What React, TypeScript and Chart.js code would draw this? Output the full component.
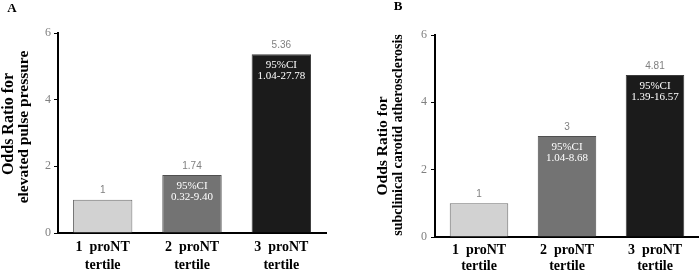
import React, { useEffect, useRef } from 'react';
import { Chart, registerables } from 'chart.js';

Chart.register(...registerables);

// Tertile categories shown under both panels
const tertileLabels: string[][] = [
  ['1  proNT', 'tertile'],
  ['2  proNT', 'tertile'],
  ['3  proNT', 'tertile'],
];

// Panel A: odds ratio for elevated pulse pressure
const pulseOdds = [1, 1.74, 5.36];
const pulseCI = ['', '0.32-9.40', '1.04-27.78'];

// Panel B: odds ratio for subclinical carotid atherosclerosis
const carotidOdds = [1, 3, 4.81];
const carotidCI = ['', '1.04-8.68', '1.39-16.57'];

const yMin = 0;
const yMax = 6;
const yStep = 2;

const barFills = ['#d2d2d2', '#737373', '#1b1b1b'];
const barBorders = ['#6e6e6e', '#4f4f4f', '#3c3c3c'];

const SERIF = '"Liberation Serif", "Times New Roman", serif';
const SANS = '"Liberation Sans", Arial, sans-serif';

type TitleLine = { text: string; x: number; y: number; size: number };

type PanelSpec = {
  letter: string;
  letterX: number;
  letterY: number;
  titles: TitleLine[];
  values: number[];
  ci: string[];
  width: number;
  height: number;
  area: { left: number; right: number; top: number; bottom: number };
  tickPad: number;
  xPad: number;
  xLineHeight: number;
};

const panelA: PanelSpec = {
  letter: 'A',
  letterX: 12,
  letterY: 9,
  titles: [
    { text: 'Odds Ratio for', x: 9, y: 124, size: 16 },
    { text: 'elevated pulse pressure', x: 24, y: 127, size: 15.5 },
  ],
  values: pulseOdds,
  ci: pulseCI,
  width: 350,
  height: 272,
  area: { left: 58, right: 326, top: 33, bottom: 233 },
  tickPad: 3,
  xPad: 6,
  xLineHeight: 1.25,
};

const panelB: PanelSpec = {
  letter: 'B',
  letterX: 48,
  letterY: 7,
  titles: [
    { text: 'Odds Ratio for', x: 33, y: 146, size: 15.5 },
    { text: 'subclinical carotid atherosclerosis', x: 48, y: 135, size: 14 },
  ],
  values: carotidOdds,
  ci: carotidCI,
  width: 349,
  height: 272,
  area: { left: 85, right: 349, top: 35, bottom: 237 },
  tickPad: 4,
  xPad: 6,
  xLineHeight: 1.12,
};

function makeAnnotations(spec: PanelSpec) {
  return {
    id: 'panelAnnotations',
    afterDatasetsDraw(chart: Chart) {
      const ctx = chart.ctx;
      const meta = chart.getDatasetMeta(0);
      ctx.save();
      meta.data.forEach((bar: any, i: number) => {
        const x = bar.x;
        const top = bar.y;
        // odds ratio above each bar
        ctx.fillStyle = '#808080';
        ctx.font = `10px ${SANS}`;
        ctx.textAlign = 'center';
        ctx.textBaseline = 'middle';
        ctx.fillText(String(spec.values[i]), x, top - 9);
        // confidence interval inside the bar
        if (spec.ci[i]) {
          ctx.fillStyle = '#ffffff';
          ctx.font = `11px ${SERIF}`;
          ctx.fillText('95%CI', x, top + 11);
          ctx.fillText(spec.ci[i], x, top + 22);
        }
      });
      ctx.restore();
    },
    afterDraw(chart: Chart) {
      const ctx = chart.ctx;
      ctx.save();
      ctx.fillStyle = '#000000';
      ctx.textAlign = 'center';
      ctx.textBaseline = 'middle';
      ctx.font = `bold 13px ${SERIF}`;
      ctx.fillText(spec.letter, spec.letterX, spec.letterY);
      // rotated two-line y-axis title
      spec.titles.forEach((t) => {
        ctx.save();
        ctx.translate(t.x, t.y);
        ctx.rotate(-Math.PI / 2);
        ctx.font = `bold ${t.size}px ${SERIF}`;
        ctx.fillText(t.text, 0, 0);
        ctx.restore();
      });
      ctx.restore();
    },
  };
}

function OddsPanel({ spec, left }: { spec: PanelSpec; left: number }) {
  const canvasRef = useRef<HTMLCanvasElement | null>(null);

  useEffect(() => {
    const canvas = canvasRef.current;
    if (!canvas) return;
    const { area } = spec;
    const chart = new Chart(canvas, {
      type: 'bar',
      data: {
        labels: tertileLabels,
        datasets: [
          {
            data: spec.values,
            backgroundColor: barFills,
            borderColor: barBorders,
            borderWidth: 1,
            barPercentage: 0.665,
            categoryPercentage: 1,
          },
        ],
      },
      options: {
        responsive: false,
        animation: false,
        devicePixelRatio: 1,
        layout: {
          padding: {
            left: 0,
            top: area.top,
            right: spec.width - area.right,
            bottom: 0,
          },
        },
        plugins: {
          legend: { display: false },
          tooltip: { enabled: false },
          title: { display: false },
        },
        scales: {
          x: {
            afterFit: (scale: any) => {
              scale.height = spec.height - area.bottom;
            },
            grid: { display: false, drawTicks: false },
            border: { display: true, color: '#000000', width: 2 },
            ticks: {
              color: '#000000',
              padding: spec.xPad,
              font: { family: SERIF, size: 14, weight: 'bold', lineHeight: spec.xLineHeight },
              maxRotation: 0,
              autoSkip: false,
            },
          },
          y: {
            min: yMin,
            max: yMax,
            afterFit: (scale: any) => {
              scale.width = area.left;
            },
            grid: {
              display: true,
              drawOnChartArea: false,
              drawTicks: true,
              tickLength: 4,
              color: '#000000',
              lineWidth: 1,
            },
            border: { display: true, color: '#000000', width: 2 },
            ticks: {
              stepSize: yStep,
              color: '#808080',
              padding: spec.tickPad,
              font: { family: SERIF, size: 12 },
            },
          },
        },
      },
      plugins: [makeAnnotations(spec)],
    } as any);
    return () => chart.destroy();
  }, [spec]);

  return (
    <canvas
      ref={canvasRef}
      width={spec.width}
      height={spec.height}
      style={{
        position: 'absolute',
        left,
        top: 0,
        width: spec.width,
        height: spec.height,
      }}
    />
  );
}

export default function App() {
  return (
    <div
      style={{
        position: 'fixed',
        left: 0,
        top: 0,
        width: 699,
        height: 272,
        background: '#ffffff',
        overflow: 'hidden',
      }}
    >
      <OddsPanel spec={panelA} left={0} />
      <OddsPanel spec={panelB} left={350} />
    </div>
  );
}
